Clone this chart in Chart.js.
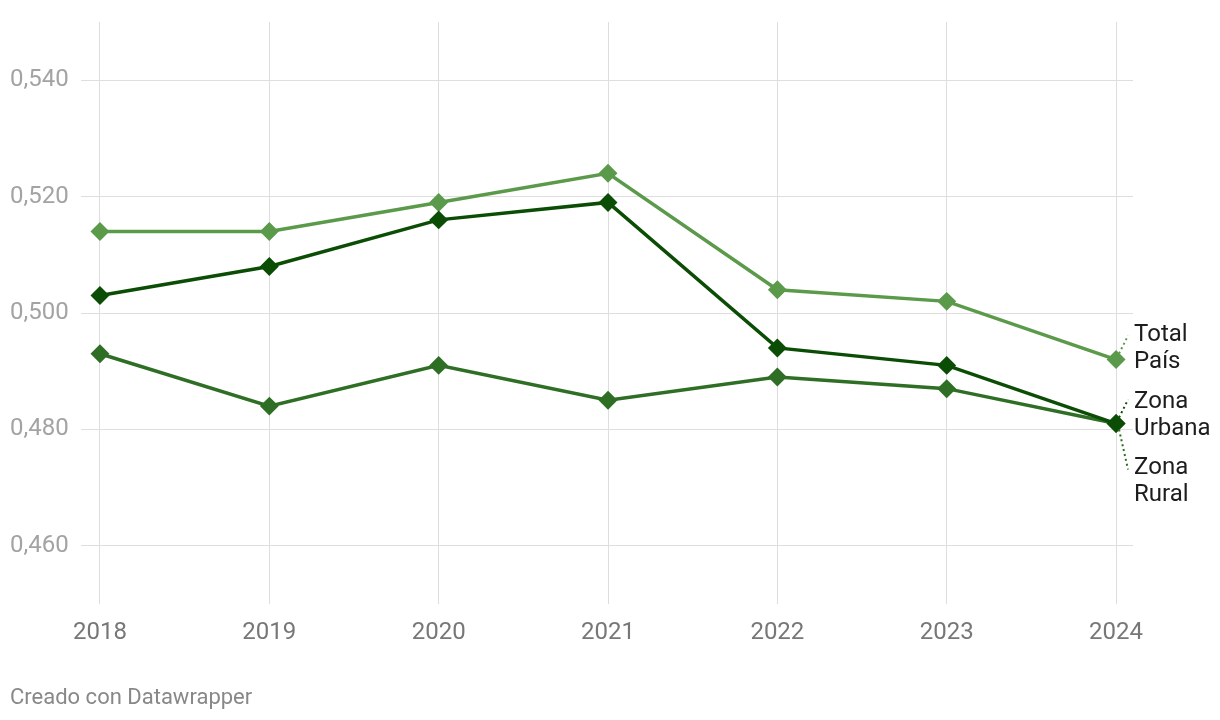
<!DOCTYPE html>
<html>
<head>
<meta charset="utf-8">
<script src="https://cdn.jsdelivr.net/npm/chart.js@4"></script>
<style>
  html, body { margin: 0; padding: 0; background: #fff; }
  #wrap { position: relative; width: 1220px; height: 720px; }
  #footer { position: absolute; left: 10px; top: 684px; font: 22px Roboto, sans-serif; color: #888; }
</style>
</head>
<body>
<div id="wrap">
  <canvas id="chart" width="1220" height="720"></canvas>
  <div id="footer">Creado con Datawrapper</div>
</div>
<script>
// datos
const years = [2018, 2019, 2020, 2021, 2022, 2023, 2024];
const totalPais = [0.514, 0.514, 0.519, 0.524, 0.504, 0.502, 0.492];
const zonaUrbana = [0.503, 0.508, 0.516, 0.519, 0.494, 0.491, 0.481];
const zonaRural = [0.493, 0.484, 0.491, 0.485, 0.489, 0.487, 0.481];
const yTicks = [0.46, 0.48, 0.50, 0.52, 0.54];

const colors = { total: '#5a9a4a', urbana: '#0b4d04', rural: '#2f6e25' };

function pts(vals) {
  return vals.map((v, i) => ({ x: years[i], y: v }));
}

function serie(label, vals, color, order) {
  return {
    label: label,
    data: pts(vals),
    borderColor: color,
    backgroundColor: color,
    borderWidth: 3.5,
    pointStyle: 'rectRot',
    pointRadius: 7,
    pointHoverRadius: 7,
    tension: 0,
    order: order
  };
}

// etiquetas a la derecha con linea punteada
const endLabels = {
  id: 'endLabels',
  afterDatasetsDraw(chart) {
    const ctx = chart.ctx;
    const xs = chart.scales.x, ys = chart.scales.y;
    const last = years.length - 1;
    const items = [
      { lines: ['Total', 'País'], v: totalPais[last], color: colors.total, dy: -11, ly: -24 },
      { lines: ['Zona', 'Urbana'], v: zonaUrbana[last], color: colors.urbana, dy: -8, ly: -24 },
      { lines: ['Zona', 'Rural'], v: zonaRural[last], color: colors.rural, dy: 58, ly: 46 }
    ];
    const px = xs.getPixelForValue(years[last]);
    ctx.save();
    items.forEach(it => {
      const py = ys.getPixelForValue(it.v);
      ctx.strokeStyle = it.color;
      ctx.lineWidth = 2;
      ctx.setLineDash([2, 3]);
      ctx.beginPath();
      ctx.moveTo(px + 3, py + (it.ly > 0 ? 6 : -6));
      ctx.lineTo(px + 12, py + it.ly);
      ctx.stroke();
      ctx.setLineDash([]);
      ctx.fillStyle = '#1d1d1d';
      ctx.font = '24px Roboto, sans-serif';
      ctx.textAlign = 'left';
      ctx.textBaseline = 'middle';
      const cy = py + it.dy;
      ctx.fillText(it.lines[0], px + 18, cy - 13.5);
      ctx.fillText(it.lines[1], px + 18, cy + 13.5);
    });
    ctx.restore();
  }
};

new Chart(document.getElementById('chart'), {
  type: 'line',
  data: {
    datasets: [
      serie('Total País', totalPais, colors.total, 3),
      serie('Zona Rural', zonaRural, colors.rural, 2),
      serie('Zona Urbana', zonaUrbana, colors.urbana, 1)
    ]
  },
  options: {
    responsive: false,
    animation: false,
    layout: { padding: { left: 10, right: 87, top: 22, bottom: 0 } },
    plugins: { legend: { display: false }, tooltip: { enabled: false } },
    events: [],
    scales: {
      x: {
        type: 'linear',
        min: 2017.888,
        max: 2024.1,
        afterBuildTicks: s => { s.ticks = years.map(y => ({ value: y })); },
        afterFit: s => { s.height = 116; },
        grid: { color: '#dedede', lineWidth: 1, drawTicks: false },
        border: { display: false },
        ticks: {
          padding: 15,
          color: '#777',
          font: { family: 'Roboto', size: 24 },
          callback: v => String(v)
        }
      },
      y: {
        min: 0.45,
        max: 0.55,
        afterBuildTicks: s => { s.ticks = yTicks.map(v => ({ value: v })); },
        afterFit: s => { s.width = 71; },
        grid: { color: '#dedede', lineWidth: 1, drawTicks: false },
        border: { display: false },
        ticks: {
          crossAlign: 'far',
          color: '#a3a3a3',
          font: { family: 'Roboto', size: 24 },
          callback: v => v.toFixed(3).replace('.', ',')
        }
      }
    }
  },
  plugins: [endLabels]
});
</script>
</body>
</html>
